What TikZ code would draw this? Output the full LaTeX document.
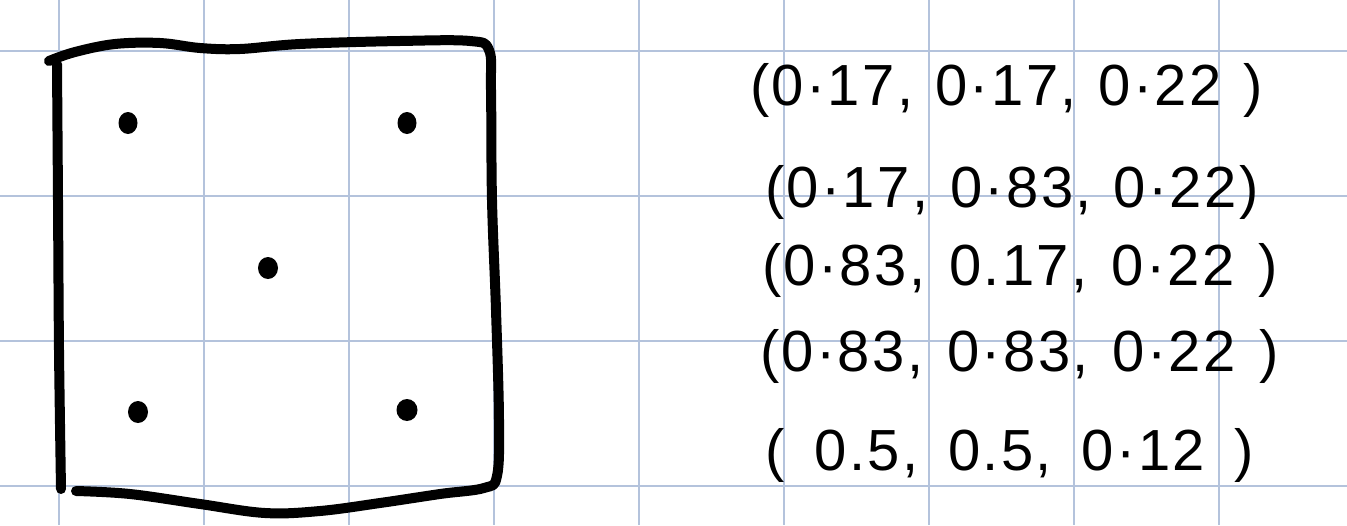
\documentclass[tikz,border=0pt]{standalone}
\usepackage{fontspec}
\setmainfont{Liberation Sans}[LetterSpace=4]
\begin{document}
\begin{tikzpicture}[x=1pt,y=-1pt,
  gridline/.style={draw={rgb,255:red,180;green,195;blue,220},line width=1.8pt},
  pen/.style={draw=black,line width=10pt,line cap=round,line join=round},
  dotmark/.style={fill=black},
  coord/.style={anchor=west,inner sep=0pt,font=\fontsize{58}{66}\selectfont}]
\fill[white] (0,0) rectangle (1347,525);
\useasboundingbox (0,0) rectangle (1347,525);
% grid paper
\foreach \gx in {59,204,349,494,639,784,929,1074,1219}
  \draw[gridline] (\gx,0) -- (\gx,525);
\foreach \gy in {51,196,341,486}
  \draw[gridline] (0,\gy) -- (1347,\gy);
% hand-drawn square
\draw[pen] plot[smooth,tension=0.6] coordinates {(49,61) (75,52) (115,44) (160,43) (200,48) (240,49) (300,44) (400,41) (470,41) (489,50) (491,90) (492,200) (496,310) (499,420) (497,476) (484,488) (440,494) (380,503) (320,511) (265,513) (200,504) (130,494) (76,491)};
\draw[pen] plot[smooth] coordinates {(57,64) (58,200) (59,350) (61,489)};
% points
\fill[dotmark] (128,123) ellipse (9.5pt and 11pt);
\fill[dotmark] (407,123) ellipse (9.5pt and 11pt);
\fill[dotmark] (268,268) ellipse (10pt and 11pt);
\fill[dotmark] (138,412) ellipse (10pt and 11pt);
\fill[dotmark] (407,410) ellipse (10.5pt and 11pt);
% coordinates list
\node[coord] (p1) at (750,90) {\spaceskip=22pt (0·17, 0·17, 0·22 )};
\node[coord] (p2) at (765,192) {\spaceskip=22pt (0·17, 0·83, 0·22)};
\node[coord] (p3) at (762,270) {\spaceskip=24pt (0·83, 0.17, 0·22 )};
\node[coord] (p4) at (760,356) {\spaceskip=24pt (0·83, 0·83, 0·22 )};
\node[coord] (p5) at (765,455) {\spaceskip=30pt ( 0.5, 0.5, 0·12 )};
\end{tikzpicture}
\end{document}
